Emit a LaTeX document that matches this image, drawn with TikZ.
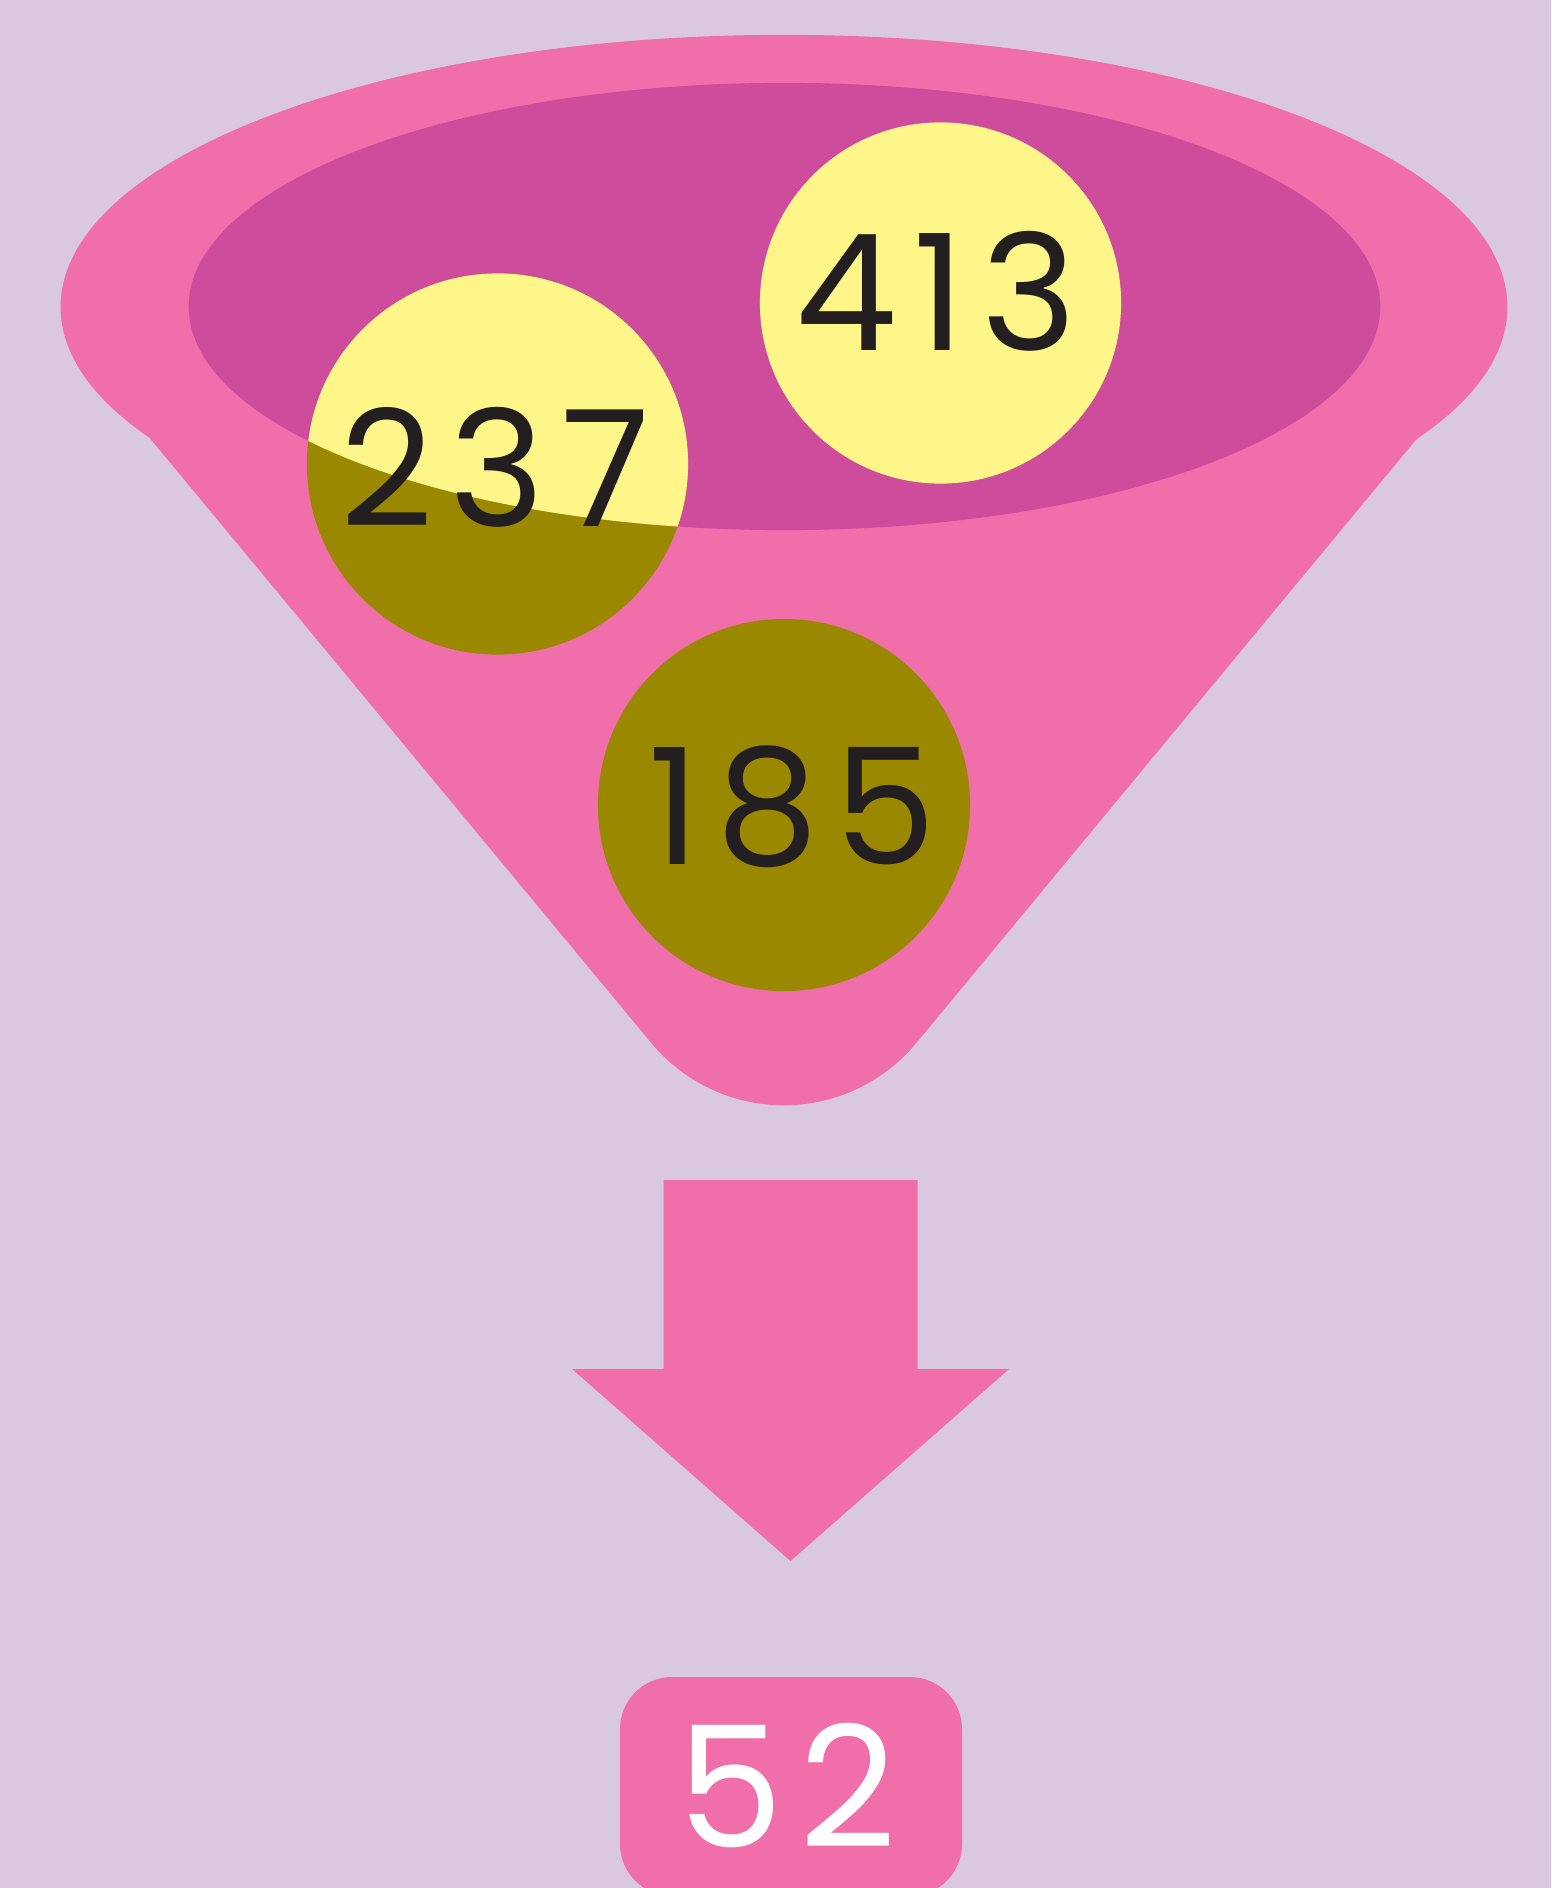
\documentclass[tikz,border=0pt]{standalone}
\usepackage{fontspec}
\setmainfont{Poppins}
\newfontfamily\numfont{Poppins}[LetterSpace=10]
\definecolor{bglavender}{HTML}{DAC8E0}
\definecolor{funnelpink}{HTML}{F06EAA}
\definecolor{innermagenta}{HTML}{CE4C9C}
\definecolor{ballyellow}{HTML}{FFF689}
\definecolor{ballolive}{HTML}{998800}
\definecolor{numdark}{HTML}{231F20}
\tikzset{
	numlabel/.style={font=\numfont\fontsize{46}{48}\selectfont, text=numdark, inner sep=0pt},
	resultlabel/.style={font=\numfont\fontsize{48}{50}\selectfont, text=white, inner sep=0pt}
}
\begin{document}
\begin{tikzpicture}[x=0.01cm, y=-0.01cm]
		\useasboundingbox (0,0) rectangle (1551,1888);
		\clip (0,0) rectangle (1551,1888);
		\fill[bglavender] (0,0) rectangle (1551,1888);

		% funnel
		\fill[funnelpink] (784,307) ellipse (7.23cm and 2.72cm);
		\fill[funnelpink] (148,436) -- (651.2,1042.9) arc[start angle=219.6, end angle=320.4, radius=1.72cm] -- (1419,436) -- cycle;
		\fill[innermagenta] (784.5,306.5) ellipse (5.955cm and 2.235cm);

		% balls
		\fill[ballyellow] (940.5,303) circle (1.805cm);
		\fill[ballolive] (497.5,464) circle (1.905cm);
		\begin{scope}
			\clip (784.5,306.5) ellipse (5.955cm and 2.235cm);
			\fill[ballyellow] (497.5,464) circle (1.905cm);
		\end{scope}
		\fill[ballolive] (784,805) circle (1.86cm);

		\node[numlabel] (n413) at (936,291) {413};
		\node[numlabel] (n237) at (495,467) {237};
		\node[numlabel] (n185) at (792,807) {185};

		% arrow
		\fill[funnelpink] (663.5,1180) -- (917.6,1180) -- (917.6,1369) -- (1009,1369) -- (790.5,1561) -- (572,1369) -- (663.5,1369) -- cycle;

		% result
		\fill[funnelpink, rounded corners=0.52cm] (620,1677) rectangle (962,1896);
		\node[resultlabel] (result) at (787,1786) {52};
	\end{tikzpicture}
\end{document}
